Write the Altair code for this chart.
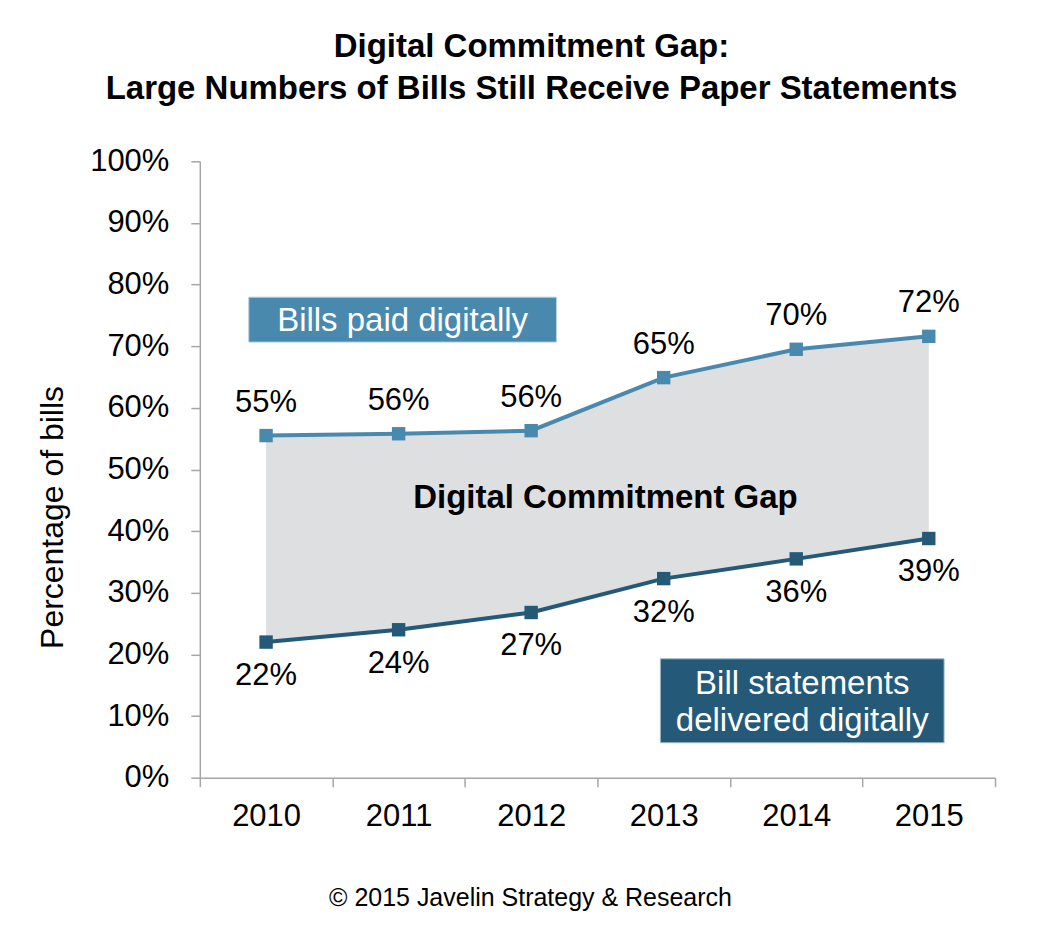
import altair as alt
import pandas as pd

# ---- data ----
years = [2010, 2011, 2012, 2013, 2014, 2015]
paid = [55.5, 55.8, 56.3, 64.9, 69.5, 71.6]
delivered = [22.0, 24.0, 26.8, 32.3, 35.5, 38.8]
paid_labels = ["55%", "56%", "56%", "65%", "70%", "72%"]
delivered_labels = ["22%", "24%", "27%", "32%", "36%", "39%"]
y_ticks = [0, 10, 20, 30, 40, 50, 60, 70, 80, 90, 100]
x_tick_edges = [2009.5, 2010.5, 2011.5, 2012.5, 2013.5, 2014.5, 2015.5]

title_lines = ["Digital Commitment Gap:", "Large Numbers of Bills Still Receive Paper Statements"]
y_title = "Percentage of bills"
gap_label = "Digital Commitment Gap"
paid_box_label = "Bills paid digitally"
delivered_box_label = "Bill statements\ndelivered digitally"
footer = "\u00a9 2015 Javelin Strategy & Research"

FONT = "Liberation Sans"
C_PAID = "#4A89AE"
C_DELIV = "#245A78"
C_GAP = "#DEDFE1"
C_AXIS = "#A6A6A6"

W, H = 796, 617

df = pd.DataFrame({
    "year": years,
    "paid": paid,
    "delivered": delivered,
    "paid_label": paid_labels,
    "delivered_label": delivered_labels,
})

x_enc = alt.X(
    "year:Q",
    scale=alt.Scale(domain=[2009.5, 2015.5], nice=False, zero=False),
    axis=alt.Axis(
        values=x_tick_edges,
        labelExpr="datum.value > 2015 ? '' : format(datum.value + 0.5, 'd')",
        labelOffset=W / 12,
        labelFlush=False,
        labelOverlap=False,
        labelBound=False,
        labelFont=FONT,
        labelFontSize=31,
        labelColor="#000000",
        labelPadding=15,
        tickSize=9,
        tickColor=C_AXIS,
        tickWidth=1.5,
        domainColor=C_AXIS,
        domainWidth=1.5,
        grid=False,
        title=None,
    ),
)

y_scale = alt.Scale(domain=[0, 100], nice=False)
y_axis = alt.Axis(
    values=y_ticks,
    labelExpr="datum.value + '%'",
    labelFont=FONT,
    labelFontSize=31,
    labelColor="#000000",
    labelPadding=22,
    tickSize=9,
    tickColor=C_AXIS,
    tickWidth=1.5,
    domainColor=C_AXIS,
    domainWidth=1.5,
    grid=False,
    title=y_title,
    titleFont=FONT,
    titleFontSize=32,
    titleFontWeight="normal",
    titleColor="#000000",
    titlePadding=20,
    titleY=356,
)

base = alt.Chart(df)

area = base.mark_area(color=C_GAP, opacity=1).encode(
    x=x_enc,
    y=alt.Y("delivered:Q", scale=y_scale, axis=y_axis),
    y2="paid:Q",
)

line_paid = base.mark_line(color=C_PAID, strokeWidth=4).encode(
    x="year:Q", y="paid:Q"
)
line_deliv = base.mark_line(color=C_DELIV, strokeWidth=4).encode(
    x="year:Q", y="delivered:Q"
)
pts_paid = base.mark_point(shape="square", filled=True, opacity=1, size=180, color=C_PAID).encode(
    x="year:Q", y="paid:Q"
)
pts_deliv = base.mark_point(shape="square", filled=True, opacity=1, size=180, color=C_DELIV).encode(
    x="year:Q", y="delivered:Q"
)

txt_paid = base.mark_text(font=FONT, fontSize=31, color="#000000", dy=-24, baseline="alphabetic").encode(
    x="year:Q", y="paid:Q", text="paid_label:N"
)
txt_deliv = base.mark_text(font=FONT, fontSize=31, color="#000000", dy=43, baseline="alphabetic").encode(
    x="year:Q", y="delivered:Q", text="delivered_label:N"
)

# ---- annotations (pixel positions relative to the plot area) ----
ann = alt.Chart(pd.DataFrame({
    "gap": [gap_label],
    "paid_box": [paid_box_label],
    "deliv_box": [delivered_box_label],
    "t1": [title_lines[0]],
    "t2": [title_lines[1]],
    "foot": [footer],
}))

gap_txt = ann.mark_text(font=FONT, fontSize=33, fontWeight="bold", color="#000000",
                        align="center", baseline="middle").encode(
    x=alt.value(406), y=alt.value(337), text="gap:N"
)

paid_rect = ann.mark_rect(color=C_PAID, stroke="#B8D0E0", strokeWidth=1).encode(
    x=alt.value(49), x2=alt.value(357), y=alt.value(136), y2=alt.value(181)
)
paid_rect_txt = ann.mark_text(font=FONT, fontSize=33, color="#FFFFFF",
                              align="center", baseline="middle").encode(
    x=alt.value(203), y=alt.value(160), text="paid_box:N"
)

deliv_rect = ann.mark_rect(color=C_DELIV, stroke="#9FB8C8", strokeWidth=1).encode(
    x=alt.value(461), x2=alt.value(745), y=alt.value(498), y2=alt.value(582)
)
deliv_rect_txt = ann.mark_text(font=FONT, fontSize=33, color="#FFFFFF", lineBreak="\n",
                               lineHeight=37, align="center", baseline="middle").encode(
    x=alt.value(603), y=alt.value(523), text="deliv_box:N"
)

t1 = ann.mark_text(font=FONT, fontSize=33, fontWeight="bold", color="#000000",
                   align="center", baseline="alphabetic").encode(
    x=alt.value(332), y=alt.value(-104), text="t1:N"
)
t2 = ann.mark_text(font=FONT, fontSize=33, fontWeight="bold", color="#000000",
                   align="center", baseline="alphabetic").encode(
    x=alt.value(332), y=alt.value(-62), text="t2:N"
)
foot = ann.mark_text(font=FONT, fontSize=25, color="#000000",
                     align="center", baseline="alphabetic").encode(
    x=alt.value(331), y=alt.value(745), text="foot:N"
)

chart = alt.layer(
    area, line_paid, line_deliv, pts_paid, pts_deliv, txt_paid, txt_deliv,
    gap_txt, paid_rect, paid_rect_txt, deliv_rect, deliv_rect_txt, t1, t2, foot,
).properties(
    width=W,
    height=H,
    background="#FFFFFF",
    autosize=alt.AutoSizeParams(type="none"),
    padding={"left": 192, "top": 153, "right": 40, "bottom": 140},
).configure_view(strokeWidth=0, stroke=None)

chart.save("out.html", embed_options={"renderer": "svg", "actions": False})
